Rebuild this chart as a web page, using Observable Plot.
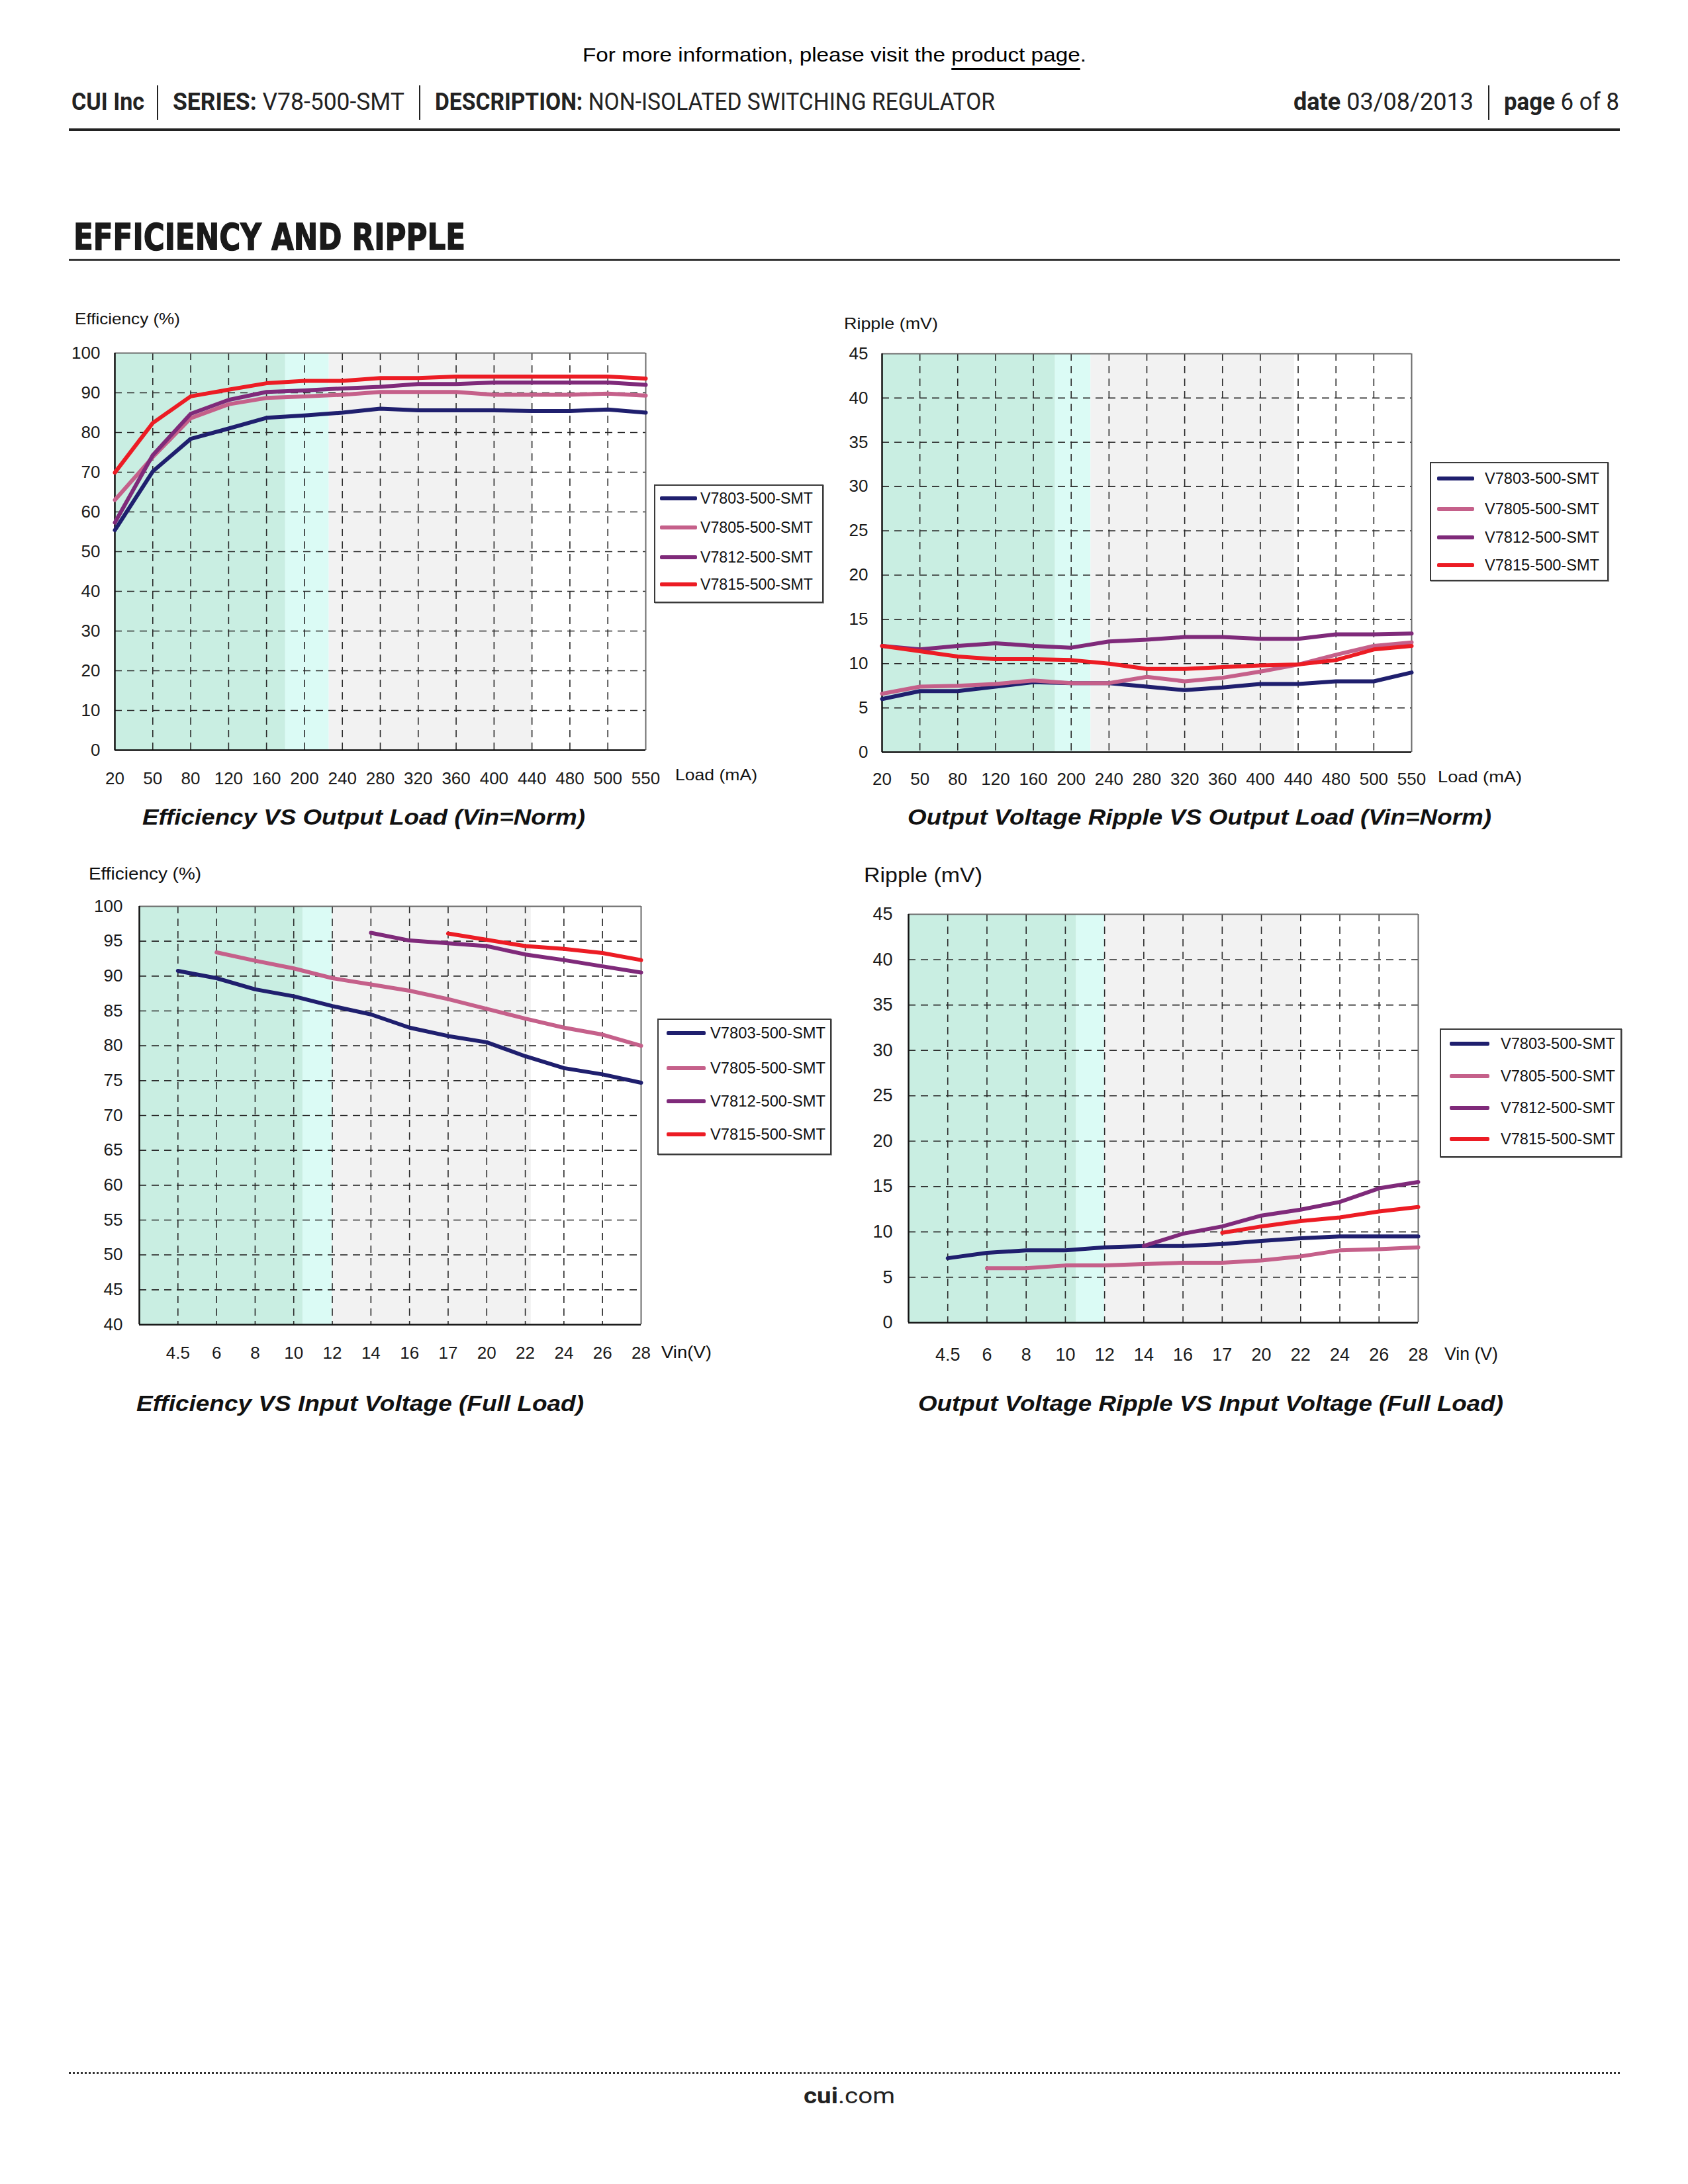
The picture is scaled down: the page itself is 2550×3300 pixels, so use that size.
<!DOCTYPE html>
<html><head><meta charset="utf-8">
<script src="https://cdn.jsdelivr.net/npm/d3@7"></script>
<script src="https://cdn.jsdelivr.net/npm/@observablehq/plot@0.6"></script>
<style>
html,body{margin:0;padding:0;background:#fff;}
#page{position:relative;width:2550px;height:3300px;background:#fff;overflow:hidden;}
.t{position:absolute;white-space:nowrap;transform-origin:0 50%;}
.chart{position:absolute;}
.chart svg{display:block;overflow:visible;max-width:none;}
.box{position:absolute;border:2px solid #3a3a3a;box-shadow:1px 1px 0 #9a9a9a;background:#fff;box-sizing:border-box;}
.sw{position:absolute;height:6px;border-radius:2px;}
.bar{position:absolute;background:#222;}
</style></head><body><div id="page"></div>
<script>
// ---------- data ----------
const seriesNames = ["V7803-500-SMT", "V7805-500-SMT", "V7812-500-SMT", "V7815-500-SMT"];
const seriesColors = ["#1f1f6e", "#c5608a", "#7f2a7a", "#ec1c24"];

const loadLabels = ["20","50","80","120","160","200","240","280","320","360","400","440","480","500","550"];
const vinLabels = ["4.5","6","8","10","12","14","16","17","20","22","24","26","28"];

// Efficiency (%) vs output load
const effLoadV7803 = [55.4, 70.2, 78.4, 81.0, 83.7, 84.3, 85.0, 86.0, 85.6, 85.6, 85.6, 85.4, 85.4, 85.8, 85.0];
const effLoadV7805 = [63.0, 73.8, 83.6, 87.1, 88.7, 89.1, 89.5, 90.2, 90.2, 90.2, 89.5, 89.5, 89.5, 89.8, 89.3];
const effLoadV7812 = [57.3, 74.3, 84.7, 88.2, 90.2, 90.6, 91.1, 91.5, 92.2, 92.2, 92.6, 92.6, 92.6, 92.6, 92.0];
const effLoadV7815 = [69.9, 82.4, 89.1, 90.8, 92.4, 93.0, 93.0, 93.7, 93.7, 94.1, 94.1, 94.1, 94.1, 94.1, 93.6];

// Ripple (mV) vs output load
const ripLoadV7803 = [6.0, 6.9, 6.9, 7.4, 7.9, 7.8, 7.8, 7.4, 7.0, 7.3, 7.7, 7.7, 8.0, 8.0, 9.0];
const ripLoadV7805 = [6.6, 7.4, 7.5, 7.7, 8.1, 7.8, 7.8, 8.5, 8.0, 8.4, 9.1, 9.9, 11.0, 12.0, 12.4];
const ripLoadV7812 = [12.0, 11.6, 12.0, 12.3, 12.0, 11.8, 12.5, 12.7, 13.0, 13.0, 12.8, 12.8, 13.3, 13.3, 13.4];
const ripLoadV7815 = [12.0, 11.4, 10.8, 10.5, 10.5, 10.4, 10.0, 9.4, 9.4, 9.6, 9.8, 9.9, 10.4, 11.6, 12.0];

// Efficiency (%) vs input voltage
const effVinV7803 = [90.75, 89.7, 88.1, 87.1, 85.7, 84.5, 82.6, 81.4, 80.5, 78.5, 76.8, 75.9, 74.7];
const effVinV7805 = [null, 93.4, 92.2, 91.1, 89.7, 88.8, 87.9, 86.7, 85.3, 83.9, 82.6, 81.6, 80.0];
const effVinV7812 = [null, null, null, null, null, 96.2, 95.1, 94.7, 94.3, 93.1, 92.3, 91.4, 90.5];
const effVinV7815 = [null, null, null, null, null, null, null, 96.1, 95.2, 94.3, 93.9, 93.3, 92.3];

// Ripple (mV) vs input voltage
const ripVinV7803 = [7.1, 7.7, 7.96, 7.96, 8.3, 8.45, 8.45, 8.66, 9.0, 9.3, 9.5, 9.5, 9.5];
const ripVinV7805 = [null, 6.0, 6.0, 6.3, 6.3, 6.45, 6.6, 6.6, 6.86, 7.3, 7.96, 8.1, 8.3];
const ripVinV7812 = [null, null, null, null, null, 8.45, 9.8, 10.6, 11.8, 12.45, 13.3, 14.8, 15.5];
const ripVinV7815 = [null, null, null, null, null, null, null, 9.9, 10.6, 11.2, 11.6, 12.25, 12.75];

// background shading bands (in category-index units)
const bgEdgesEffLoad = [0, 4.5, 5.65, 11];
const bgEdgesRipLoad = [0, 4.58, 5.52, 10.9];
const bgEdgesEffVin = [-1, 3.24, 4.0, 9.15];
const bgEdgesRipVin = [-1, 3.28, 4.0, 9.0];
const bgFills = ["#c9eee2", "#dbfbf5", "#f2f2f2"];

// ---------- helpers ----------
const page = document.getElementById("page");
const scaled = [];
function place(html, x1, x2, cy, size, css = {}) {
  const el = document.createElement("div");
  el.className = "t";
  el.innerHTML = html;
  Object.assign(el.style, {
    left: x1 + "px", top: (cy - 0.49 * size) + "px",
    fontSize: size + "px", lineHeight: size + "px",
    fontFamily: css.family || "'Liberation Sans', Arial, sans-serif",
    fontWeight: css.weight || 400, fontStyle: css.style || "normal",
    color: css.color || "#111"
  });
  if (css.stroke) el.style.webkitTextStroke = css.stroke;
  page.appendChild(el);
  scaled.push([el, x2 - x1]);
  return el;
}
function fit() {
  for (const [el, w] of scaled) {
    el.style.transform = "none";
    const r = el.getBoundingClientRect().width;
    if (r > 0) el.style.transform = `scaleX(${w / r})`;
  }
}
function block(cls, x, y, w, h, css = {}) {
  const el = document.createElement("div");
  el.className = cls;
  Object.assign(el.style, {left: x + "px", top: y + "px", width: w + "px", height: h + "px"}, css);
  page.appendChild(el);
  return el;
}
function tidy(arrs) {
  const rows = [];
  arrs.forEach((arr, k) => arr.forEach((v, i) => {
    if (v != null) rows.push({i, v, s: seriesNames[k], c: seriesColors[k]});
  }));
  return rows;
}
function bands(edges) {
  return edges.slice(0, -1).map((e, k) => ({from: e, to: edges[k + 1], fill: bgFills[k]}));
}

function drawChart(o) {
  const mL = 90, mR = 30, mT = 20, mB = 80;
  const grid = {stroke: "#2a2a2a", strokeOpacity: 1, strokeWidth: 1.6, strokeDasharray: "11,8"};
  const svg = Plot.plot({
    width: o.W + mL + mR, height: o.H + mT + mB,
    marginLeft: mL, marginRight: mR, marginTop: mT, marginBottom: mB,
    style: {fontFamily: "'Liberation Sans', Arial, sans-serif", fontSize: o.font + "px", color: "#1a1a1a", background: "transparent", overflow: "visible"},
    x: {domain: o.xDomain, ticks: o.xTicks, tickFormat: i => o.xLabels[i], tickSize: 0, tickPadding: o.padX, label: null},
    y: {domain: o.yDomain, ticks: o.yTicks, tickSize: 0, tickPadding: o.padY, label: null},
    color: {type: "identity"},
    marks: [
      Plot.rect(o.bands, {x1: "from", x2: "to", fill: "fill"}),
      Plot.ruleY(o.yGrid, grid),
      Plot.ruleX(o.xGrid, grid),
      Plot.ruleY([o.yDomain[1]], {stroke: "#6b6b6b", strokeWidth: 2}),
      Plot.ruleX([o.xDomain[1]], {stroke: "#6b6b6b", strokeWidth: 2}),
      Plot.ruleX([o.xDomain[0]], {stroke: "#111", strokeWidth: 2.5}),
      Plot.ruleY([o.yDomain[0]], {stroke: "#111", strokeWidth: 2.5}),
      Plot.line(o.rows, {x: "i", y: "v", z: "s", stroke: "c", strokeWidth: 6, strokeLinejoin: "round", strokeLinecap: "round"})
    ]
  });
  const div = document.createElement("div");
  div.className = "chart";
  div.style.left = (o.L - mL) + "px";
  div.style.top = (o.T - mT) + "px";
  div.appendChild(svg);
  page.appendChild(div);
}

function legend(box, rowsY, sw, tx) {
  block("box", box[0], box[1], box[2] - box[0], box[3] - box[1]);
  rowsY.forEach((y, k) => {
    block("sw", sw[0], y - 3, sw[1] - sw[0], 6, {background: seriesColors[k]});
    place(seriesNames[k], tx[0], tx[1], y, 23, {color: "#111"});
  });
}

// ---------- header ----------
place('For more information, please visit the <span style="text-decoration:underline;text-decoration-thickness:3px;text-underline-offset:10px">product page</span>.', 880, 1641, 83, 29, {color: "#000"});
const hf = "Roboto, 'DejaVu Sans', sans-serif";
place('<b>CUI Inc</b>', 108, 218, 153, 37, {family: hf, color: "#222"});
place('<b>SERIES:</b> V78-500-SMT', 261, 611, 153, 37, {family: hf, color: "#222"});
place('<b>DESCRIPTION:</b> NON-ISOLATED SWITCHING REGULATOR', 657, 1503, 153, 37, {family: hf, color: "#222"});
place('<b>date</b> 03/08/2013', 1954, 2226, 153, 37, {family: hf, color: "#222"});
place('<b>page</b> 6 of 8', 2272, 2446, 153, 37, {family: hf, color: "#222"});
for (const x of [238, 634, 2249]) block("bar", x - 1.25, 129, 2.5, 52);
block("bar", 104, 194, 2343, 4);
place('EFFICIENCY AND RIPPLE', 111, 703, 357, 56, {family: "'DejaVu Sans', sans-serif", weight: 700, color: "#1a1a1a", stroke: "1.5px #1a1a1a"});
block("bar", 104, 391, 2343, 3, {background: "#333"});

// ---------- charts ----------
drawChart({L: 173, T: 533, W: 802, H: 600, font: 26, padX: 33, padY: 22,
  xDomain: [0, 14], xTicks: d3.range(15), xLabels: loadLabels, xGrid: d3.range(1, 14),
  yDomain: [0, 100], yTicks: d3.range(0, 101, 10), yGrid: d3.range(10, 100, 10),
  bands: bands(bgEdgesEffLoad), rows: tidy([effLoadV7803, effLoadV7805, effLoadV7812, effLoadV7815])});
drawChart({L: 1332, T: 534, W: 800, H: 602, font: 26, padX: 31, padY: 21,
  xDomain: [0, 14], xTicks: d3.range(15), xLabels: loadLabels, xGrid: d3.range(1, 14),
  yDomain: [0, 45], yTicks: d3.range(0, 46, 5), yGrid: d3.range(5, 45, 5),
  bands: bands(bgEdgesRipLoad), rows: tidy([ripLoadV7803, ripLoadV7805, ripLoadV7812, ripLoadV7815])});
drawChart({L: 210, T: 1369, W: 758, H: 632, font: 26, padX: 33, padY: 25,
  xDomain: [-1, 12], xTicks: d3.range(13), xLabels: vinLabels, xGrid: d3.range(0, 12),
  yDomain: [40, 100], yTicks: d3.range(40, 101, 5), yGrid: d3.range(45, 100, 5),
  bands: bands(bgEdgesEffVin), rows: tidy([effVinV7803, effVinV7805, effVinV7812, effVinV7815])});
drawChart({L: 1372, T: 1381, W: 770, H: 617, font: 27, padX: 38, padY: 24,
  xDomain: [-1, 12], xTicks: d3.range(13), xLabels: vinLabels, xGrid: d3.range(0, 12),
  yDomain: [0, 45], yTicks: d3.range(0, 46, 5), yGrid: d3.range(5, 45, 5),
  bands: bands(bgEdgesRipVin), rows: tidy([ripVinV7803, ripVinV7805, ripVinV7812, ripVinV7815])});

// axis titles
place('Efficiency (%)', 113, 272, 482, 24);
place('Load (mA)', 1020, 1144, 1171, 24);
place('Ripple (mV)', 1275, 1417, 489, 24);
place('Load (mA)', 2172, 2299, 1174, 24);
place('Efficiency (%)', 134, 304, 1320, 26);
place('Vin(V)', 999, 1075, 2043, 26);
place('Ripple (mV)', 1305, 1484, 1322, 31);
place('Vin (V)', 2182, 2263, 2046, 27);

// captions
const cap = {weight: 700, style: "italic", color: "#111"};
place('Efficiency VS Output Load (Vin=Norm)', 215, 884, 1234, 34, cap);
place('Output Voltage Ripple VS Output Load (Vin=Norm)', 1371, 2253, 1234, 34, cap);
place('Efficiency VS Input Voltage (Full Load)', 206, 882, 2120, 34, cap);
place('Output Voltage Ripple VS Input Voltage (Full Load)', 1387, 2271, 2120, 34, cap);

// legends
legend([988, 732, 1244, 911], [753, 797, 842, 883], [997, 1053], [1058, 1228]);
legend([2160, 698, 2430, 878], [723, 769, 812, 854], [2171, 2227], [2243, 2416]);
legend([993, 1539, 1256, 1745], [1561, 1614, 1664, 1714], [1007, 1066], [1073, 1247]);
legend([2175, 1554, 2450, 1749], [1577, 1626, 1674, 1721], [2190, 2250], [2267, 2440]);

// ---------- footer ----------
block("bar", 104, 3131, 2343, 0, {background: "none", borderTop: "3px dotted #333"});
place('<b>cui</b>.com', 1214, 1352, 3166, 34, {family: hf, color: "#222"});

fit();
if (document.fonts && document.fonts.ready) document.fonts.ready.then(fit);
</script></body></html>
